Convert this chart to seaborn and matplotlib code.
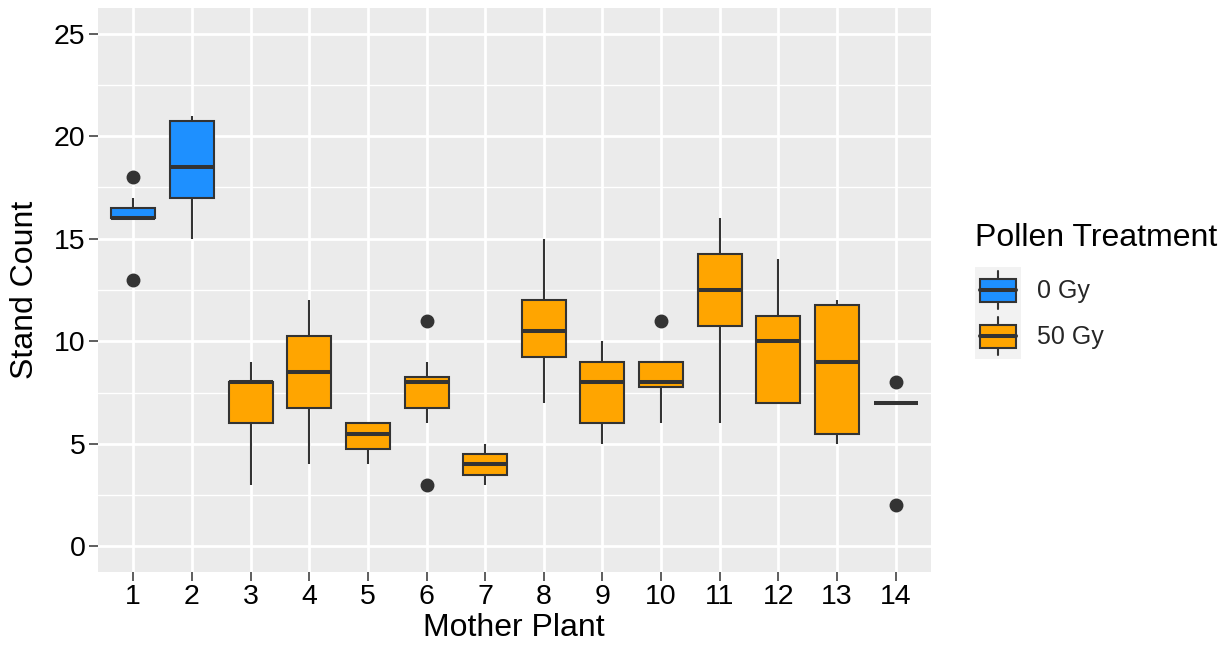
import numpy as np
import pandas as pd
import matplotlib
matplotlib.use("Agg")
import matplotlib.pyplot as plt
from matplotlib.legend_handler import HandlerBase
from matplotlib.patches import Rectangle
from matplotlib.lines import Line2D
import seaborn as sns

# ---- data (stand counts per mother plant) ----
p1 = [13, 16, 16, 16, 16, 17, 18]
p2 = [15, 17, 17, 20, 21, 21]
p3 = [3, 6, 8, 8, 9]
p4 = [4, 6, 7, 8, 9, 10, 11, 12]
p5 = [4, 5, 6, 6]
p6 = [3, 6, 7, 8, 8, 8, 9, 11]
p7 = [3, 4, 5]
p8 = [7, 10, 11, 15]
p9 = [5, 6, 8, 9, 10]
p10 = [6, 7, 8, 8, 8, 9, 9, 11]
p11 = [6, 10, 11, 12, 13, 14, 15, 16]
p12 = [7, 7, 7, 10, 10, 11, 12, 14]
p13 = [5, 5, 7, 11, 12, 12]
p14 = [2, 7, 7, 7, 7, 8]

plants = [str(i) for i in range(1, 15)]
treatments = ["0 Gy", "0 Gy"] + ["50 Gy"] * 12
plant_counts = [p1, p2, p3, p4, p5, p6, p7, p8, p9, p10, p11, p12, p13, p14]
treatment_levels = ["0 Gy", "50 Gy"]
treatment_colors = ["#1E90FF", "#FFA500"]
y_ticks = [0, 5, 10, 15, 20, 25]

rows = []
for plant, trt, vals in zip(plants, treatments, plant_counts):
    for v in vals:
        rows.append({"Mother Plant": plant, "Stand Count": v, "Pollen Treatment": trt})
df = pd.DataFrame(rows)

# ---- style ----
sns.set_theme(style="darkgrid", rc={
    "axes.facecolor": "#EBEBEB",
    "grid.color": "white",
    "axes.edgecolor": "none",
})
plt.rcParams["font.family"] = ["Liberation Sans", "DejaVu Sans"]

W, H = 1227, 650
fig = plt.figure(figsize=(W / 100, H / 100), dpi=100)
ax = fig.add_axes([98 / W, 1 - 572 / H, (931 - 98) / W, (572 - 8) / H])

DARK = "#333333"
palette = dict(zip(treatment_levels, treatment_colors))
sns.boxplot(
    data=df, x="Mother Plant", y="Stand Count", hue="Pollen Treatment",
    order=plants, hue_order=treatment_levels, palette=palette,
    dodge=False, width=0.75, linewidth=1.5, linecolor=DARK,
    showcaps=False, saturation=1, legend=False, ax=ax,
    medianprops=dict(color=DARK, linewidth=2.9),
    whiskerprops=dict(color=DARK, linewidth=1.5),
    boxprops=dict(edgecolor=DARK, linewidth=1.5),
    flierprops=dict(marker="o", markerfacecolor=DARK, markeredgecolor=DARK,
                    markersize=9),
)

ax.set_xlim(-0.6, len(plants) - 0.4)
ax.set_ylim(-1.25, 26.25)
ax.set_yticks(y_ticks)
ax.set_yticks(np.arange(2.5, 26, 5), minor=True)
ax.grid(True, which="major", color="white", linewidth=2.0)
ax.grid(True, which="minor", axis="y", color="white", linewidth=1.0)
ax.set_axisbelow(True)
for s in ax.spines.values():
    s.set_visible(False)
ax.tick_params(axis="both", which="major", length=6.5, width=1.1, color=DARK,
               labelsize=20.5, labelcolor="black", pad=2.5, bottom=True, left=True)
ax.tick_params(axis="both", which="minor", length=0)
ax.set_xlabel("")
ax.set_ylabel("")

fig.text(514 / W, 1 - 636 / H, "Mother Plant", ha="center", va="baseline",
         fontsize=23, color="black")
fig.text(25 / W, 1 - 290 / H, "Stand Count", ha="center", va="center",
         rotation=90, fontsize=23, color="black")

# ---- legend ----
fig.text(975 / W, 1 - 246 / H, "Pollen Treatment", ha="left", va="baseline",
         fontsize=23, color="black")


class BoxKeyHandler(HandlerBase):
    def create_artists(self, legend, orig_handle, xdescent, ydescent,
                       width, height, fontsize, trans):
        x0, y0 = -xdescent, -ydescent
        fc = orig_handle.get_facecolor()
        bg = Rectangle((x0, y0), width, height, facecolor="#F2F2F2",
                       edgecolor="none", transform=trans)
        cx = x0 + width / 2
        wl = Line2D([cx, cx], [y0 + 0.08 * height, y0 + 0.92 * height],
                    color=DARK, linewidth=1.5, transform=trans)
        bw, bh = 0.78 * width, 0.5 * height
        box = Rectangle((cx - bw / 2, y0 + 0.25 * height), bw, bh,
                        facecolor=fc, edgecolor=DARK, linewidth=1.5,
                        transform=trans)
        med = Line2D([cx - bw / 2, cx + bw / 2], [y0 + 0.5 * height] * 2,
                     color=DARK, linewidth=2.9, transform=trans)
        return [bg, wl, box, med]


handles = [Rectangle((0, 0), 1, 1, facecolor=c) for c in treatment_colors]
fs_leg = 18
key_pt = 46 * 72 / 100
h_len = key_pt / fs_leg
h_hgt = (key_pt / fs_leg - 0.245) / 0.65
fig.legend(handles, treatment_levels, loc="upper left",
           bbox_to_anchor=(975 / W, 1 - 267 / H), frameon=False,
           borderpad=0, borderaxespad=0, labelspacing=0,
           handlelength=h_len, handleheight=h_hgt,
           handletextpad=0.64, fontsize=fs_leg,
           handler_map={Rectangle: BoxKeyHandler()})

fig.savefig("out.png", dpi=100)
